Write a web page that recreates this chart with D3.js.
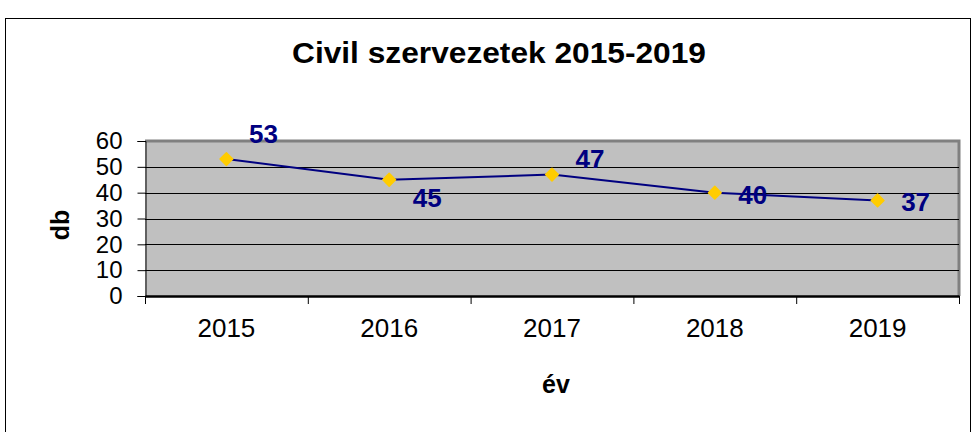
<!DOCTYPE html>
<html>
<head>
<meta charset="utf-8">
<script src="https://cdn.jsdelivr.net/npm/d3@7"></script>
<style>
  body { margin: 0; background: #fff; }
  svg { display: block; font-family: Arial, "Liberation Sans", sans-serif; }
</style>
</head>
<body>
<svg id="chart" width="975" height="432"></svg>
<script>
const years = ['2015', '2016', '2017', '2018', '2019']
const counts = [53, 45, 47, 40, 37]
const yTicks = [0, 10, 20, 30, 40, 50, 60]
// where excel dropped each data label (dx, baseline dy from the marker)
const labelNudge = [[37, -16], [38, 27], [38, -7], [38, 11], [38, 11]]

const plot = { left: 145, right: 959, top: 141, bottom: 296 }
const font = 'Arial, "Liberation Sans", sans-serif'
const svg = d3.select('#chart')

// outer chart frame
svg.append('rect')
  .attr('x', 5.5).attr('y', 18.5)
  .attr('width', 965).attr('height', 440)
  .attr('fill', '#fff').attr('stroke', '#000').attr('stroke-width', 1)

svg.append('text')
  .attr('x', 499).attr('y', 63)
  .attr('text-anchor', 'middle')
  .attr('font-size', 29).attr('font-weight', 'bold')
  .attr('textLength', 414).attr('lengthAdjust', 'spacingAndGlyphs')
  .text('Civil szervezetek 2015-2019')

const x = d3.scaleBand()
  .domain(years)
  .range([plot.left, plot.right])

const y = d3.scaleLinear()
  .domain([0, 60])
  .range([plot.bottom, plot.top])

// plot area
svg.append('rect')
  .attr('x', plot.left).attr('y', plot.top)
  .attr('width', plot.right - plot.left).attr('height', plot.bottom - plot.top)
  .attr('fill', '#c0c0c0')

svg.append('path')
  .attr('d', `M${plot.left},${plot.top}H${plot.right}V${plot.bottom}`)
  .attr('fill', 'none').attr('stroke', '#808080').attr('stroke-width', 3)

svg.append('g')
  .selectAll('line')
  .data(yTicks.filter(d => d > 0 && d < 60))
  .enter().append('line')
  .attr('x1', plot.left).attr('x2', plot.right)
  .attr('y1', d => Math.round(y(d)) + 0.5).attr('y2', d => Math.round(y(d)) + 0.5)
  .attr('stroke', '#000').attr('stroke-width', 1)

// y axis
const yAxis = svg.append('g')
  .attr('transform', `translate(${plot.left + 0.5},0)`)
  .call(d3.axisLeft(y).tickValues(yTicks).tickSize(8).tickPadding(15))
yAxis.select('.domain').attr('stroke', '#000')
yAxis.selectAll('text').attr('font-size', 24).attr('fill', '#000').attr('font-family', font)

// x axis with ticks between categories
const xAxis = svg.append('g')
  .attr('transform', `translate(0,${plot.bottom})`)
  .call(d3.axisBottom(x).tickSize(0).tickPadding(22))
xAxis.select('.domain').attr('stroke', '#000').attr('stroke-width', 2.5)
xAxis.selectAll('text')
  .attr('font-size', 26).attr('fill', '#000').attr('font-family', font)
  .attr('dy', null).attr('y', 41)
xAxis.selectAll('.between')
  .data(years.concat(['end']))
  .enter().append('line')
  .attr('x1', (d, i) => plot.left + i * x.step() + 0.5)
  .attr('x2', (d, i) => plot.left + i * x.step() + 0.5)
  .attr('y1', 0).attr('y2', 8)
  .attr('stroke', '#000')

// axis titles
svg.append('text')
  .attr('transform', `translate(69,225) rotate(-90)`)
  .attr('text-anchor', 'middle')
  .attr('font-size', 25).attr('font-weight', 'bold')
  .text('db')

svg.append('text')
  .attr('x', 556).attr('y', 393)
  .attr('text-anchor', 'middle')
  .attr('font-size', 25).attr('font-weight', 'bold')
  .text('év')

// series
const pts = years.map((yr, i) => ({ yr, v: counts[i], nudge: labelNudge[i] }))
const cx = d => x(d.yr) + x.bandwidth() / 2

svg.append('path')
  .datum(pts)
  .attr('d', d3.line().x(cx).y(d => y(d.v)))
  .attr('fill', 'none').attr('stroke', '#000080').attr('stroke-width', 2)

svg.append('g')
  .selectAll('path')
  .data(pts)
  .enter().append('path')
  .attr('d', d3.symbol().type(d3.symbolSquare).size(81))
  .attr('transform', d => `translate(${cx(d)},${y(d.v)}) rotate(45)`)
  .attr('fill', '#ffcc00')
  .attr('stroke', '#ffcc00').attr('stroke-width', 1.5).attr('stroke-linejoin', 'round')

svg.append('g')
  .selectAll('text')
  .data(pts)
  .enter().append('text')
  .attr('x', d => cx(d) + d.nudge[0])
  .attr('y', d => y(d.v) + d.nudge[1])
  .attr('text-anchor', 'middle')
  .attr('font-size', 26).attr('font-weight', 'bold')
  .attr('fill', '#000080')
  .text(d => d.v)
</script>
</body>
</html>
